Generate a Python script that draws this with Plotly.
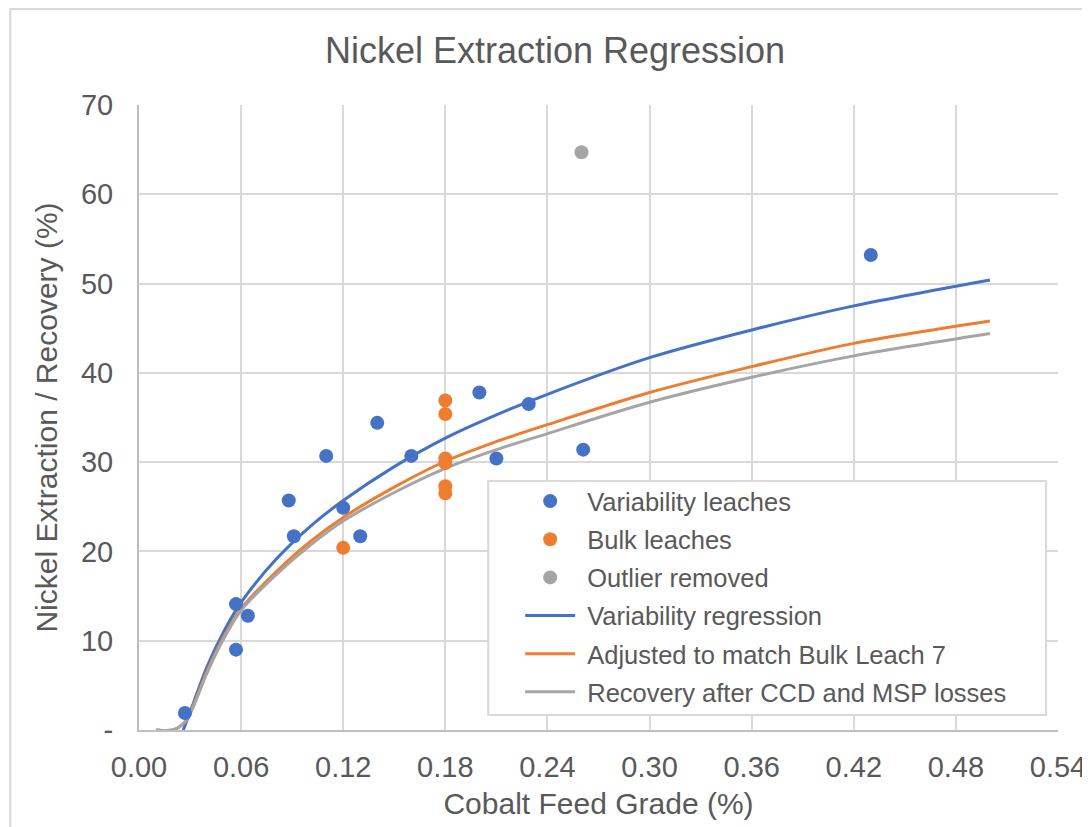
import plotly.graph_objects as go

# ---------------- data ----------------
var_x = [0.027, 0.057, 0.057, 0.064, 0.088, 0.091, 0.110, 0.120, 0.130, 0.140, 0.160, 0.200, 0.210, 0.229, 0.261, 0.430]
var_y = [1.9, 14.1, 9.0, 12.8, 25.7, 21.7, 30.7, 24.9, 21.7, 34.4, 30.7, 37.8, 30.4, 36.5, 31.4, 53.2]

bulk_x = [0.12, 0.18, 0.18, 0.18, 0.18, 0.18, 0.18]
bulk_y = [20.4, 36.9, 35.4, 30.4, 29.9, 27.3, 26.5]

outlier_x = [0.26]
outlier_y = [64.7]

reg_x = [0.026, 0.03, 0.04, 0.05, 0.06, 0.08, 0.10, 0.12, 0.15, 0.18, 0.21, 0.24, 0.30, 0.36, 0.42, 0.50]
reg_y = [0.0, 2.0, 7.1, 11.1, 14.3, 19.0, 22.7, 25.7, 29.5, 32.7, 35.3, 37.6, 41.7, 44.8, 47.5, 50.4]

adj_x = [0.01, 0.02, 0.026, 0.03, 0.04, 0.05, 0.06, 0.08, 0.10, 0.12, 0.15, 0.18, 0.21, 0.24, 0.30, 0.36, 0.42, 0.50]
adj_y = [0.0, 0.0, 0.7, 1.9, 6.6, 10.5, 13.6, 17.6, 21.0, 23.8, 27.2, 30.1, 32.3, 34.2, 37.8, 40.7, 43.3, 45.8]
rec_y = [0.0, 0.0, 0.7, 1.8, 6.4, 10.3, 13.4, 17.3, 20.6, 23.4, 26.6, 29.3, 31.4, 33.2, 36.7, 39.5, 41.9, 44.4]

x_ticks = [0.00, 0.06, 0.12, 0.18, 0.24, 0.30, 0.36, 0.42, 0.48, 0.54]
x_labels = ["0.00", "0.06", "0.12", "0.18", "0.24", "0.30", "0.36", "0.42", "0.48", "0.54"]
y_ticks = [0, 10, 20, 30, 40, 50, 60, 70]
y_labels = ["-", "10", "20", "30", "40", "50", "60", "70"]

BLUE = "#4472C4"
ORANGE = "#ED7D31"
GREY = "#A5A5A5"
TXT = "#595959"
GRID = "#D9D9D9"
FONT = "Liberation Sans, Arial, sans-serif"
SP = "\u00a0"

# page body has an 8px margin: compensate so the plot area sits at x 139..1060, y 105..730
OFF = 8
L, R, T, B = 139 - OFF, 30 + OFF, 105 - OFF, 97 + OFF
PW, PH = 921, 625


def px_x(px):
    return (px - 139) / PW


def px_y(py):
    return (730 - py) / PH


fig = go.Figure()
fig.add_trace(go.Scatter(x=reg_x, y=reg_y, mode="lines", name=SP + "Variability regression",
                         line=dict(color=BLUE, width=3, shape="spline", smoothing=0.8),
                         legendgroup="d", legendrank=4))
fig.add_trace(go.Scatter(x=adj_x, y=adj_y, mode="lines", name=SP + "Adjusted to match Bulk Leach 7",
                         line=dict(color=ORANGE, width=3, shape="spline", smoothing=0.8),
                         legendgroup="e", legendrank=5))
fig.add_trace(go.Scatter(x=adj_x, y=rec_y, mode="lines", name=SP + "Recovery after CCD and MSP losses",
                         line=dict(color=GREY, width=3, shape="spline", smoothing=0.8),
                         legendgroup="f", legendrank=6))
fig.add_trace(go.Scatter(x=var_x, y=var_y, mode="markers", name=SP + "Variability leaches",
                         marker=dict(color=BLUE, size=14), legendgroup="a", legendrank=1, cliponaxis=False))
fig.add_trace(go.Scatter(x=bulk_x, y=bulk_y, mode="markers", name=SP + "Bulk leaches",
                         marker=dict(color=ORANGE, size=14), legendgroup="b", legendrank=2, cliponaxis=False))
fig.add_trace(go.Scatter(x=outlier_x, y=outlier_y, mode="markers", name=SP + "Outlier removed",
                         marker=dict(color=GREY, size=14), legendgroup="c", legendrank=3, cliponaxis=False))

fig.update_layout(
    width=1090, height=827,
    margin=dict(l=L, r=R, t=T, b=B),
    paper_bgcolor="white", plot_bgcolor="white",
    font=dict(family=FONT, color=TXT, size=29),
    title=dict(text="Nickel Extraction Regression", x=(555 - OFF) / 1090, xanchor="center",
               y=1 - (50 - OFF) / 827, yanchor="middle", yref="container",
               font=dict(size=36, color=TXT, family=FONT)),
    showlegend=True,
    legend=dict(x=px_x(521), y=px_y(478), xanchor="left", yanchor="top",
                bgcolor="rgba(0,0,0,0)", borderwidth=0,
                font=dict(size=25.5, color=TXT, family=FONT),
                tracegroupgap=2, itemwidth=50, traceorder="grouped"),
    xaxis=dict(range=[0, 0.54], tickvals=x_ticks, ticktext=x_labels,
               showgrid=True, gridcolor=GRID, gridwidth=2,
               showline=True, linecolor="#BFBFBF", linewidth=2,
               zeroline=False, ticks="", ticklabelstandoff=10,
               tickfont=dict(size=29, color=TXT),
               title=dict(text="Cobalt Feed Grade (%)", font=dict(size=30, color=TXT), standoff=11)),
    yaxis=dict(range=[0, 70], tickvals=y_ticks, ticktext=y_labels,
               showgrid=True, gridcolor=GRID, gridwidth=2,
               showline=True, linecolor="#BFBFBF", linewidth=2,
               zeroline=False, ticks="", ticklabelstandoff=18,
               tickfont=dict(size=29, color=TXT),
               title=dict(text="Nickel Extraction / Recovery (%)", font=dict(size=30, color=TXT), standoff=14)),
    shapes=[
        dict(type="rect", xref="paper", yref="paper",
             x0=px_x(489), x1=px_x(1048), y0=px_y(715), y1=px_y(481),
             line=dict(color=GRID, width=2), fillcolor="white", layer="above"),
        dict(type="rect", xref="paper", yref="paper",
             x0=px_x(10), x1=px_x(1110), y0=px_y(850), y1=px_y(9),
             line=dict(color=GRID, width=2), fillcolor="rgba(0,0,0,0)", layer="below"),
    ],
)

fig.write_html("out.html")
